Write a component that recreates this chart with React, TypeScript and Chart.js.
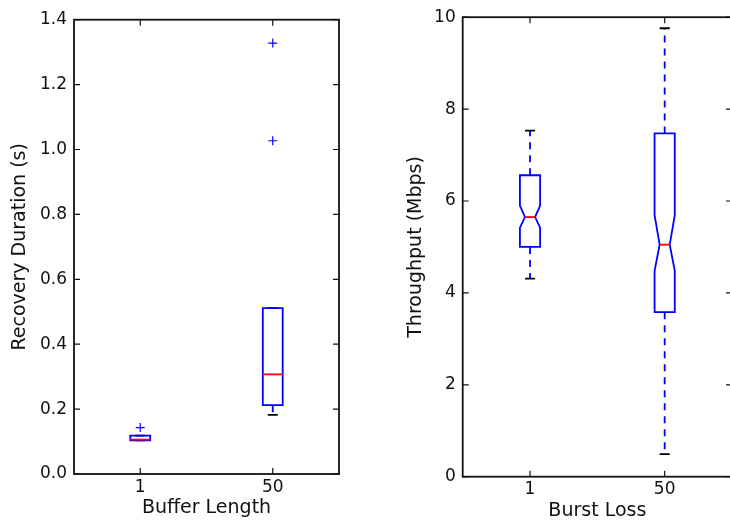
import React, { useEffect, useRef } from 'react';
import { Chart, registerables } from 'chart.js';

Chart.register(...registerables);

// ---------- Data ----------
const bufferCategories = ['1', '50'];
const recoveryWhiskerLow = [0.104, 0.182];
const recoveryQ1 = [0.104, 0.212];
const recoveryMedian = [0.106, 0.307];
const recoveryQ3 = [0.118, 0.511];
const recoveryWhiskerHigh = [0.118, 0.511];
const recoveryOutliersCat1 = [0.143];
const recoveryOutliersCat50 = [1.027, 1.328];
const recoveryTicks = [0, 0.2, 0.4, 0.6, 0.8, 1.0, 1.2, 1.4];

const burstCategories = ['1', '50'];
const throughputWhiskerLow = [4.31, 0.49];
const throughputQ1 = [5.0, 3.58];
const throughputNotchLow = [5.42, 4.48];
const throughputMedian = [5.65, 5.05];
const throughputNotchHigh = [5.9, 5.69];
const throughputQ3 = [6.56, 7.47];
const throughputWhiskerHigh = [7.53, 9.76];
const throughputTicks = [0, 2, 4, 6, 8, 10];

const FONT = 'DejaVu Sans';
const BLUE = '#0000ff';
const RED = '#ff0000';

type BoxSpec = {
  lo: number[];
  q1: number[];
  med: number[];
  q3: number[];
  hi: number[];
  notchLo?: number[];
  notchHi?: number[];
  width: number;
};

function makeBoxPlugin(spec: BoxSpec) {
  return {
    id: 'boxes',
    beforeDatasetsDraw(chart: any) {
      const { ctx } = chart;
      const xs = chart.scales.x;
      const ys = chart.scales.y;
      const py = (v: number) => ys.getPixelForValue(v);
      spec.q1.forEach((_, i) => {
        const xc = xs.getPixelForValue(i + 1);
        const hw = xs.getPixelForValue(i + 1 + spec.width / 2) - xc;
        ctx.save();
        ctx.lineWidth = 1.8;
        // whiskers
        ctx.strokeStyle = BLUE;
        ctx.setLineDash([7, 6]);
        ctx.beginPath();
        ctx.moveTo(xc, py(spec.q3[i]));
        ctx.lineTo(xc, py(spec.hi[i]));
        ctx.stroke();
        ctx.beginPath();
        ctx.moveTo(xc, py(spec.q1[i]));
        ctx.lineTo(xc, py(spec.lo[i]));
        ctx.stroke();
        ctx.setLineDash([]);
        // caps
        ctx.strokeStyle = '#000';
        ctx.beginPath();
        ctx.moveTo(xc - hw / 2, py(spec.hi[i]));
        ctx.lineTo(xc + hw / 2, py(spec.hi[i]));
        ctx.moveTo(xc - hw / 2, py(spec.lo[i]));
        ctx.lineTo(xc + hw / 2, py(spec.lo[i]));
        ctx.stroke();
        // box
        ctx.strokeStyle = BLUE;
        ctx.beginPath();
        if (spec.notchLo && spec.notchHi) {
          const nl = py(spec.notchLo[i]);
          const nh = py(spec.notchHi[i]);
          const m = py(spec.med[i]);
          ctx.moveTo(xc - hw, py(spec.q1[i]));
          ctx.lineTo(xc - hw, nl);
          ctx.lineTo(xc - hw / 2, m);
          ctx.lineTo(xc - hw, nh);
          ctx.lineTo(xc - hw, py(spec.q3[i]));
          ctx.lineTo(xc + hw, py(spec.q3[i]));
          ctx.lineTo(xc + hw, nh);
          ctx.lineTo(xc + hw / 2, m);
          ctx.lineTo(xc + hw, nl);
          ctx.lineTo(xc + hw, py(spec.q1[i]));
          ctx.closePath();
        } else {
          ctx.rect(xc - hw, py(spec.q3[i]), 2 * hw, py(spec.q1[i]) - py(spec.q3[i]));
        }
        ctx.stroke();
        // median
        ctx.strokeStyle = RED;
        const mw = spec.notchLo ? hw / 2 : hw;
        ctx.beginPath();
        ctx.moveTo(xc - mw, py(spec.med[i]));
        ctx.lineTo(xc + mw, py(spec.med[i]));
        ctx.stroke();
        ctx.restore();
      });
    },
  };
}

const framePlugin = {
  id: 'frame',
  afterDraw(chart: any) {
    const { ctx, chartArea: a } = chart;
    const xs = chart.scales.x;
    const ys = chart.scales.y;
    ctx.save();
    ctx.strokeStyle = '#111';
    ctx.lineWidth = 1.2;
    const tl = 6;
    ctx.beginPath();
    xs.ticks.forEach((t: any) => {
      const x = xs.getPixelForValue(t.value);
      ctx.moveTo(x, a.bottom);
      ctx.lineTo(x, a.bottom - tl);
      ctx.moveTo(x, a.top);
      ctx.lineTo(x, a.top + tl);
    });
    ys.ticks.forEach((t: any) => {
      const y = ys.getPixelForValue(t.value);
      ctx.moveTo(a.left, y);
      ctx.lineTo(a.left + tl, y);
      ctx.moveTo(a.right, y);
      ctx.lineTo(a.right - tl, y);
    });
    ctx.stroke();
    ctx.lineWidth = 1.8;
    ctx.strokeRect(a.left, a.top, a.right - a.left, a.bottom - a.top);
    ctx.restore();
  },
};

type PanelProps = {
  width: number;
  left: number;
  categories: string[];
  yTicks: number[];
  yDecimals: number;
  yTitle: string;
  xTitle: string;
  spec: BoxSpec;
  outliers: { x: number; y: number }[];
  padTop: number;
  padRight: number;
  yWidth: number;
  xHeight: number;
  yTitlePad: number;
  xTitlePad: number;
  xTickPad: number;
};

function Panel(p: PanelProps) {
  const ref = useRef<HTMLCanvasElement | null>(null);
  useEffect(() => {
    if (!ref.current) return;
    const chart = new Chart(ref.current, {
      type: 'scatter',
      data: {
        datasets: [
          {
            data: p.outliers,
            pointStyle: 'cross',
            radius: 4.5,
            borderColor: BLUE,
            backgroundColor: BLUE,
            borderWidth: 1.2,
            showLine: false,
          } as any,
        ],
      },
      options: {
        animation: false,
        responsive: false,
        devicePixelRatio: 1,
        layout: { padding: { top: p.padTop, right: p.padRight, left: 0, bottom: 0 } },
        plugins: { legend: { display: false }, tooltip: { enabled: false } },
        scales: {
          x: {
            type: 'linear',
            min: 0.5,
            max: 2.5,
            grid: { display: false, drawTicks: false },
            border: { display: false },
            afterBuildTicks: (s: any) => {
              s.ticks = p.categories.map((_, i) => ({ value: i + 1 }));
            },
            afterFit: (s: any) => {
              s.height = p.xHeight;
            },
            ticks: {
              padding: p.xTickPad,
              color: '#111',
              font: { family: FONT, size: 17 },
              maxRotation: 0,
              callback: (v: any) => p.categories[Math.round(Number(v)) - 1],
            },
            title: {
              display: true,
              text: p.xTitle,
              color: '#111',
              font: { family: FONT, size: 19 },
              padding: { top: 0, bottom: p.xTitlePad },
            },
          },
          y: {
            type: 'linear',
            min: p.yTicks[0],
            max: p.yTicks[p.yTicks.length - 1],
            grid: { display: false, drawTicks: false },
            border: { display: false },
            afterBuildTicks: (s: any) => {
              s.ticks = p.yTicks.map((v) => ({ value: v }));
            },
            afterFit: (s: any) => {
              s.width = p.yWidth;
            },
            ticks: {
              padding: 7,
              color: '#111',
              font: { family: FONT, size: 17 },
              callback: (v: any) => Number(v).toFixed(p.yDecimals),
            },
            title: {
              display: true,
              text: p.yTitle,
              color: '#111',
              font: { family: FONT, size: 19 },
              padding: { top: p.yTitlePad, bottom: 0 },
            },
          },
        },
      },
      plugins: [makeBoxPlugin(p.spec), framePlugin],
    });
    return () => chart.destroy();
  }, []);
  return (
    <canvas
      ref={ref}
      width={p.width}
      height={522}
      style={{ position: 'absolute', left: p.left, top: 0, width: p.width, height: 522 }}
    />
  );
}

export default function App() {
  const recoveryOutliers = [
    ...recoveryOutliersCat1.map((y) => ({ x: 1, y })),
    ...recoveryOutliersCat50.map((y) => ({ x: 2, y })),
  ];
  return (
    <div
      style={{
        position: 'fixed',
        left: 0,
        top: 0,
        width: 730,
        height: 522,
        overflow: 'hidden',
        background: '#fff',
      }}
    >
      <Panel
        width={365}
        left={0}
        categories={bufferCategories}
        yTicks={recoveryTicks}
        yDecimals={1}
        yTitle="Recovery Duration (s)"
        xTitle="Buffer Length"
        spec={{
          lo: recoveryWhiskerLow,
          q1: recoveryQ1,
          med: recoveryMedian,
          q3: recoveryQ3,
          hi: recoveryWhiskerHigh,
          width: 0.15,
        }}
        outliers={recoveryOutliers}
        padTop={19.7}
        padRight={26}
        yWidth={74}
        xHeight={48}
        yTitlePad={8.6}
        xTitlePad={2.2}
        xTickPad={3}
      />
      <Panel
        width={380}
        left={370}
        categories={burstCategories}
        yTicks={throughputTicks}
        yDecimals={0}
        yTitle="Throughput (Mbps)"
        xTitle="Burst Loss"
        spec={{
          lo: throughputWhiskerLow,
          q1: throughputQ1,
          med: throughputMedian,
          q3: throughputQ3,
          hi: throughputWhiskerHigh,
          notchLo: throughputNotchLow,
          notchHi: throughputNotchHigh,
          width: 0.15,
        }}
        outliers={[]}
        padTop={13.3}
        padRight={18}
        yWidth={92.7}
        xHeight={45.3}
        yTitlePad={34.3}
        xTitlePad={0}
        xTickPad={3}
      />
    </div>
  );
}
